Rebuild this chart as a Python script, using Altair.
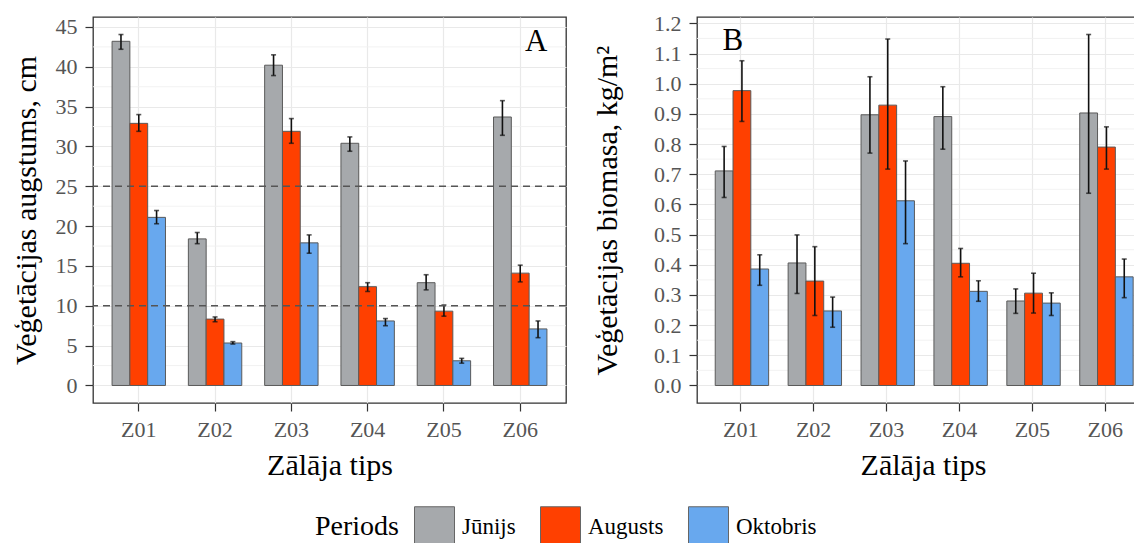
import altair as alt
import pandas as pd

zones = ["Z01", "Z02", "Z03", "Z04", "Z05", "Z06"]
periods = ["Jūnijs", "Augusts", "Oktobris"]
colors = ["#A6A9AC", "#FF4000", "#68A8EE"]

# Panel A: vegetation height, cm (mean, lower, upper)
h_jun = [43.2, 18.4, 40.2, 30.4, 12.9, 33.7]
h_jun_lo = [42.2, 17.8, 38.9, 29.4, 12.0, 31.4]
h_jun_hi = [44.05, 19.2, 41.5, 31.2, 13.9, 35.75]
h_aug = [32.9, 8.33, 31.9, 12.4, 9.33, 14.1]
h_aug_lo = [31.9, 8.0, 30.4, 11.8, 8.7, 13.0]
h_aug_hi = [34.0, 8.6, 33.5, 12.9, 10.1, 15.1]
h_okt = [21.1, 5.33, 17.9, 8.1, 3.1, 7.1]
h_okt_lo = [20.3, 5.2, 16.6, 7.5, 2.8, 6.0]
h_okt_hi = [21.96, 5.5, 18.9, 8.4, 3.4, 8.1]

# Panel B: vegetation biomass, kg/m2 (mean, lower, upper)
b_jun = [0.711, 0.406, 0.897, 0.891, 0.280, 0.903]
b_jun_lo = [0.623, 0.305, 0.770, 0.783, 0.239, 0.637]
b_jun_hi = [0.792, 0.499, 1.023, 0.990, 0.320, 1.163]
b_aug = [0.977, 0.346, 0.929, 0.405, 0.306, 0.790]
b_aug_lo = [0.875, 0.232, 0.717, 0.360, 0.240, 0.717]
b_aug_hi = [1.076, 0.460, 1.148, 0.454, 0.372, 0.857]
b_okt = [0.386, 0.247, 0.612, 0.312, 0.273, 0.360]
b_okt_lo = [0.332, 0.193, 0.470, 0.279, 0.232, 0.291]
b_okt_hi = [0.433, 0.293, 0.744, 0.347, 0.307, 0.419]

a_ticks = [0, 5, 10, 15, 20, 25, 30, 35, 40, 45]
a_minor = [2.5, 7.5, 12.5, 17.5, 22.5, 27.5, 32.5, 37.5, 42.5]
a_refs = [10, 25]
b_ticks = [0.0, 0.1, 0.2, 0.3, 0.4, 0.5, 0.6, 0.7, 0.8, 0.9, 1.0, 1.1, 1.2]
b_minor = [0.05, 0.15, 0.25, 0.35, 0.45, 0.55, 0.65, 0.75, 0.85, 0.95, 1.05, 1.15]

FONT = "Liberation Serif"
AX = dict(labelFont=FONT, labelFontSize=22, labelColor="#555555",
          titleFont=FONT, titleFontSize=30, titleFontWeight="normal",
          titleColor="black", tickSize=8, tickColor="#333333", tickWidth=1.2,
          domain=False, gridColor="#E9E9E9", gridWidth=1.2, labelPadding=8,
          labelOverlap=False)


def long_table(series):
    rows = []
    for p, (m, lo, hi) in zip(periods, series):
        for z, a, b, c in zip(zones, m, lo, hi):
            rows.append({"zone": z, "period": p, "value": a, "lo": b, "hi": c})
    return pd.DataFrame(rows)


dfA = long_table([(h_jun, h_jun_lo, h_jun_hi), (h_aug, h_aug_lo, h_aug_hi),
                  (h_okt, h_okt_lo, h_okt_hi)])
dfB = long_table([(b_jun, b_jun_lo, b_jun_hi), (b_aug, b_aug_lo, b_aug_hi),
                  (b_okt, b_okt_lo, b_okt_hi)])


def panel(df, ytitle, domain, ticks, minor, fmt, width, letter, letter_zone,
          letter_dx, letter_y, ytitle_pad, refs=None):
    xsc = alt.Scale(paddingInner=0.3, paddingOuter=0.25)
    xax = alt.Axis(grid=True, labelAngle=0, titlePadding=10, **AX)
    x = alt.X("zone:N", sort=zones, title="Zālāja tips", scale=xsc, axis=xax)
    xo = alt.XOffset("period:N", sort=periods,
                     scale=alt.Scale(paddingInner=0, paddingOuter=0))
    ysc = alt.Scale(domain=domain, nice=False, zero=False)
    yax = alt.Axis(values=ticks, tickCount=len(ticks), format=fmt, grid=True,
                   titlePadding=ytitle_pad, **AX)

    def yy(field):
        return alt.Y(field, title=ytitle, scale=ysc, axis=yax)

    base = alt.Chart(df)
    minor_layer = alt.Chart(pd.DataFrame({"value": minor})).mark_rule(
        color="#F0F0F0", strokeWidth=0.9
    ).encode(y=yy("value:Q"))

    bars = base.mark_bar(stroke="#5A5A5A", strokeWidth=1).encode(
        x=x, xOffset=xo, y=yy("value:Q"), y2=alt.datum(0),
        color=alt.Color("period:N", sort=periods,
                        scale=alt.Scale(domain=periods, range=colors),
                        title="Periods"),
    )
    err = base.mark_rule(color="#111111", strokeWidth=1.6).encode(
        x=x, xOffset=xo, y=yy("lo:Q"), y2="hi:Q")
    cap_lo = base.mark_tick(color="#111111", thickness=1.6, size=5).encode(
        x=x, xOffset=xo, y=yy("lo:Q"))
    cap_hi = base.mark_tick(color="#111111", thickness=1.6, size=5).encode(
        x=x, xOffset=xo, y=yy("hi:Q"))
    layers = [minor_layer, bars, err, cap_lo, cap_hi]
    if refs:
        layers.append(
            alt.Chart(pd.DataFrame({"value": refs})).mark_rule(
                color="#555555", strokeWidth=1.4, strokeDash=[7, 5]
            ).encode(y=yy("value:Q"))
        )
    layers.append(
        alt.Chart(pd.DataFrame({"t": [letter]})).mark_text(
            font=FONT, fontSize=31, color="black", baseline="alphabetic",
            dx=letter_dx
        ).encode(x=alt.datum(letter_zone), y=alt.datum(letter_y), text="t:N")
    )
    return alt.layer(*layers).properties(width=width, height=386)


panelA = panel(dfA, "Veģetācijas augstums, cm", [-2.2, 46.25], a_ticks, a_minor,
               "d", 473, "A", "Z06", 16, 42.0, 14, refs=a_refs)
panelB = panel(dfB, "Veģetācijas biomasa, kg/m²", [-0.058, 1.221], b_ticks,
               b_minor, ".1f", 452, "B", "Z01", -8, 1.112, 31)

chart = alt.hconcat(panelA, panelB, spacing=23).properties(
    padding={"left": 85, "top": 9, "right": 1041, "bottom": 518},
    autosize=alt.AutoSizeParams(type="none"),
).configure_view(
    stroke="#333333", strokeWidth=1.3
).configure_axis(
    labelOverlap=False
).configure_legend(
    orient="none", legendX=222, legendY=489, direction="horizontal",
    titleOrient="left", titleAnchor="middle", titleBaseline="middle",
    titleFont=FONT, titleFontSize=28, titleFontWeight="normal", titleColor="black",
    titlePadding=15,
    labelFont=FONT, labelFontSize=23, labelColor="black", labelOffset=7,
    symbolType="square", symbolSize=1600, symbolStrokeColor="#666666",
    symbolStrokeWidth=1, columnPadding=22,
)

chart.save("out.html", embed_options={"renderer": "svg", "actions": False})
